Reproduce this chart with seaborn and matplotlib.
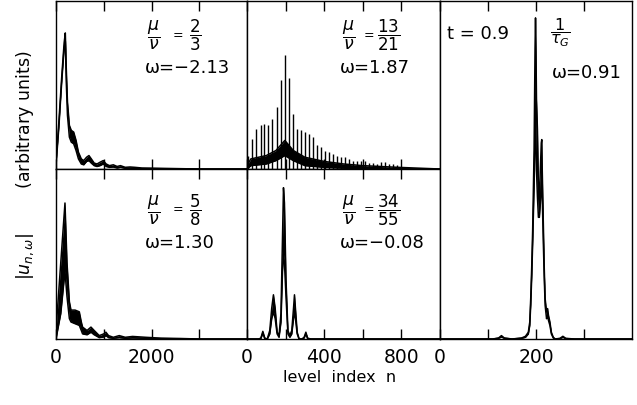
import numpy as np
import matplotlib
matplotlib.use("Agg")
import matplotlib.pyplot as plt
import seaborn as sns

# ---------------- data ----------------
# panel a: mu/nu = 2/3, omega = -2.13  (level index 0..4000)
a_n     = [0, 60, 120, 170, 195, 215, 240, 280, 320, 370, 420, 470, 530, 580, 640, 690, 740, 800,
           860, 920, 990, 1050, 1120, 1200, 1280, 1350, 1450, 1550, 1650, 1800, 2000, 2400, 3000, 4000]
a_upper = [0.04, 0.28, 0.55, 0.75, 0.81, 0.60, 0.40, 0.26, 0.23, 0.22, 0.17, 0.10, 0.06, 0.05, 0.07, 0.08, 0.06, 0.035,
           0.03, 0.04, 0.05, 0.03, 0.02, 0.025, 0.015, 0.02, 0.01, 0.012, 0.01, 0.006, 0.005, 0.003, 0.0, 0.0]
a_lower = [0.02, 0.25, 0.52, 0.72, 0.76, 0.52, 0.32, 0.19, 0.16, 0.15, 0.11, 0.06, 0.03, 0.025, 0.045, 0.05, 0.035, 0.02,
           0.015, 0.02, 0.03, 0.015, 0.01, 0.012, 0.006, 0.01, 0.004, 0.005, 0.004, 0.002, 0.002, 0.001, 0.0, 0.0]

# panel b: mu/nu = 5/8, omega = 1.30  (level index 0..4000)
b_n     = [0, 100, 188, 230, 280, 314, 400, 488, 530, 557, 650, 732, 800, 906, 1000, 1045, 1100, 1200,
           1324, 1450, 1603, 1882, 2200, 2600, 3000, 4000]
b_upper = [0.05, 0.45, 0.80, 0.45, 0.22, 0.17, 0.17, 0.16, 0.10, 0.07, 0.05, 0.07, 0.05, 0.02, 0.03, 0.04, 0.02, 0.01,
           0.02, 0.01, 0.015, 0.01, 0.005, 0.003, 0.0, 0.0]
b_lower = [0.0, 0.15, 0.40, 0.25, 0.12, 0.10, 0.09, 0.08, 0.05, 0.03, 0.025, 0.04, 0.025, 0.008, 0.012, 0.02, 0.008, 0.004,
           0.008, 0.004, 0.006, 0.004, 0.002, 0.001, 0.0, 0.0]

# panel c: mu/nu = 13/21, omega = 1.87  (level index 0..1000)
c_n       = [0, 20, 60, 100, 150, 196, 240, 300, 400, 500, 600, 780, 1000]
c_upper   = [0.02, 0.06, 0.07, 0.08, 0.11, 0.17, 0.11, 0.07, 0.045, 0.03, 0.02, 0.01, 0.0]
c_lower   = [0.0, 0.02, 0.025, 0.03, 0.05, 0.08, 0.05, 0.02, 0.01, 0.005, 0.003, 0.0, 0.0]
c_spike_n = [7, 28, 49, 70, 90, 111, 132, 153, 174, 195, 216, 236, 257, 278, 299, 320, 341, 361, 382,
             403, 424, 445, 466, 486, 507, 528, 549, 570, 591, 611, 632, 653, 674, 695, 716, 736, 757, 778]
c_spike_h = [0.08, 0.18, 0.24, 0.26, 0.27, 0.26, 0.30, 0.37, 0.53, 0.68, 0.54, 0.33, 0.24, 0.23, 0.22, 0.21,
             0.19, 0.14, 0.13, 0.11, 0.10, 0.09, 0.08, 0.07, 0.07, 0.06, 0.05, 0.05, 0.045, 0.045, 0.035,
             0.035, 0.03, 0.04, 0.04, 0.03, 0.03, 0.025]

# panel d: mu/nu = 34/55, omega = -0.08  (level index 0..1000)
d_n     = [0, 60, 72, 82, 92, 105, 118, 128, 137, 146, 156, 166, 176, 184, 189, 194, 202, 212, 222, 232,
           241, 246, 251, 260, 270, 285, 296, 305, 314, 330, 1000]
d_upper = [0, 0, 0.005, 0.045, 0.005, 0.0, 0.05, 0.18, 0.26, 0.18, 0.04, 0.02, 0.15, 0.60, 0.89, 0.80,
           0.35, 0.05, 0.02, 0.05, 0.18, 0.26, 0.18, 0.04, 0.0, 0.0, 0.01, 0.04, 0.005, 0, 0]
d_lower = [0, 0, 0.003, 0.035, 0.003, 0.0, 0.03, 0.12, 0.16, 0.12, 0.03, 0.01, 0.10, 0.40, 0.50, 0.45,
           0.25, 0.03, 0.01, 0.03, 0.12, 0.16, 0.12, 0.03, 0.0, 0.0, 0.006, 0.03, 0.003, 0, 0]

# panel e: t = 0.9, 1/tau_G, omega = 0.91  (level index 0..400)
e_n     = [0, 110, 122, 128, 134, 150, 170, 178, 184, 187, 189, 191, 193, 196, 198, 199, 200, 201, 203, 205,
           207, 209, 211, 212, 213, 215, 217, 219, 222, 224, 226, 229, 232, 236, 240, 250, 256, 262, 280, 400]
e_upper = [0, 0, 0.003, 0.01, 0.003, 0, 0.003, 0.008, 0.02, 0.05, 0.12, 0.21, 0.32, 0.56, 0.86, 0.95, 0.85,
           0.71, 0.62, 0.45, 0.42, 0.50, 0.58, 0.59, 0.50, 0.36, 0.22, 0.12, 0.08, 0.09, 0.07, 0.05, 0.02,
           0.005, 0, 0.002, 0.008, 0.002, 0, 0]
e_lower = [0, 0, 0.002, 0.006, 0.002, 0, 0.002, 0.005, 0.015, 0.04, 0.10, 0.18, 0.28, 0.45, 0.60, 0.65, 0.60,
           0.50, 0.42, 0.36, 0.36, 0.40, 0.45, 0.47, 0.42, 0.30, 0.19, 0.10, 0.06, 0.07, 0.055, 0.04, 0.015,
           0.003, 0, 0.001, 0.005, 0.001, 0, 0]

# tick settings
a_ticks, a_labels = [0, 1000, 2000, 3000], ["0", "", "2000", ""]
c_ticks, c_labels = [0, 200, 400, 600, 800], ["0", "", "400", "", "800"]
e_ticks, e_labels = [0, 100, 200, 300], ["0", "", "200", ""]

# ---------------- figure ----------------
sns.set_theme(style="white")
plt.rcParams["font.family"] = ["DejaVu Sans"]
plt.rcParams["mathtext.fontset"] = "dejavusans"
plt.rcParams["text.color"] = "black"

fig = plt.figure(figsize=(6.37, 4.06), dpi=100)
W, H = 637.0, 406.0

def box(x0, x1, ytop, ybot):
    return [x0 / W, (H - ybot) / H, (x1 - x0) / W, (ybot - ytop) / H]

ax_a = fig.add_axes(box(56, 247, 2, 170))
ax_b = fig.add_axes(box(56, 247, 170, 340))
ax_c = fig.add_axes(box(247, 440, 2, 170))
ax_d = fig.add_axes(box(247, 440, 170, 340))
ax_e = fig.add_axes(box(440, 632, 2, 340))

def band(ax, n, up, lo):
    sns.lineplot(x=n, y=up, ax=ax, color="black", lw=1.1, sort=False)
    sns.lineplot(x=n, y=lo, ax=ax, color="black", lw=1.1, sort=False)
    ax.fill_between(n, lo, up, color="black", lw=0)

band(ax_a, a_n, a_upper, a_lower)
band(ax_b, b_n, b_upper, b_lower)
band(ax_c, c_n, c_upper, c_lower)
ax_c.vlines(c_spike_n, 0, c_spike_h, color="black", lw=1.0)
band(ax_d, d_n, d_upper, d_lower)
band(ax_e, e_n, e_upper, e_lower)

for ax, lim, ticks, labels, showlab in [
        (ax_a, 4000, a_ticks, a_labels, False),
        (ax_b, 4000, a_ticks, a_labels, True),
        (ax_c, 1000, c_ticks, c_labels, False),
        (ax_d, 1000, c_ticks, c_labels, True),
        (ax_e, 400, e_ticks, e_labels, True)]:
    ax.set_xlim(0, lim)
    ax.set_ylim(0, 1)
    ax.set_yticks([])
    ax.set_xticks(ticks)
    ax.set_xticklabels(labels if showlab else [""] * len(ticks))
    ax.tick_params(axis="x", direction="in", top=True, bottom=True, length=7, width=1,
                   color="black", labelsize=13.5, pad=6, labelcolor="black")
    ax.set_xlabel("")
    ax.set_ylabel("")
    for s in ax.spines.values():
        s.set_color("black")
        s.set_linewidth(1.0)
    ax.set_facecolor("white")

fs = 13
def label(ax, num, den, omega, x_mu, x_eq, x_frac, y1, y2):
    ax.text(x_mu, y1, r"$\dfrac{\mu}{\nu}$", transform=ax.transAxes, fontsize=12.5, va="center", ha="left")
    ax.text(x_eq, y1, "=", transform=ax.transAxes, fontsize=9, va="center", ha="center")
    ax.text(x_frac, y1, r"$\dfrac{%s}{%s}$" % (num, den), transform=ax.transAxes, fontsize=12,
            va="center", ha="left")
    ax.text(x_mu - 0.01, y2, omega, transform=ax.transAxes, fontsize=fs, va="center", ha="left")

label(ax_a, "2", "3", "ω=−2.13", 0.476, 0.640, 0.695, 0.80, 0.61)
label(ax_b, "5", "8", "ω=1.30", 0.476, 0.640, 0.695, 0.765, 0.57)
label(ax_c, "13", "21", "ω=1.87", 0.492, 0.632, 0.672, 0.80, 0.61)
label(ax_d, "34", "55", "ω=−0.08", 0.492, 0.632, 0.675, 0.765, 0.57)

ax_e.text(0.036, 0.905, "t = 0.9", transform=ax_e.transAxes, fontsize=fs, va="center", ha="left")
ax_e.text(0.575, 0.91, r"$\dfrac{1}{\tau_G}$", transform=ax_e.transAxes, fontsize=11.5, va="center", ha="left")
ax_e.text(0.585, 0.79, "ω=0.91", transform=ax_e.transAxes, fontsize=fs, va="center", ha="left")

fig.text(340 / W, (H - 378) / H, "level  index  n", ha="center", va="center", fontsize=11.5)
fig.text(25 / W, (H - 165) / H, r"$|u_{n,\omega}|$" + "        (arbitrary units)",
         rotation=90, ha="center", va="center", fontsize=12.5)

fig.savefig("out.png", dpi=100, facecolor="white")
